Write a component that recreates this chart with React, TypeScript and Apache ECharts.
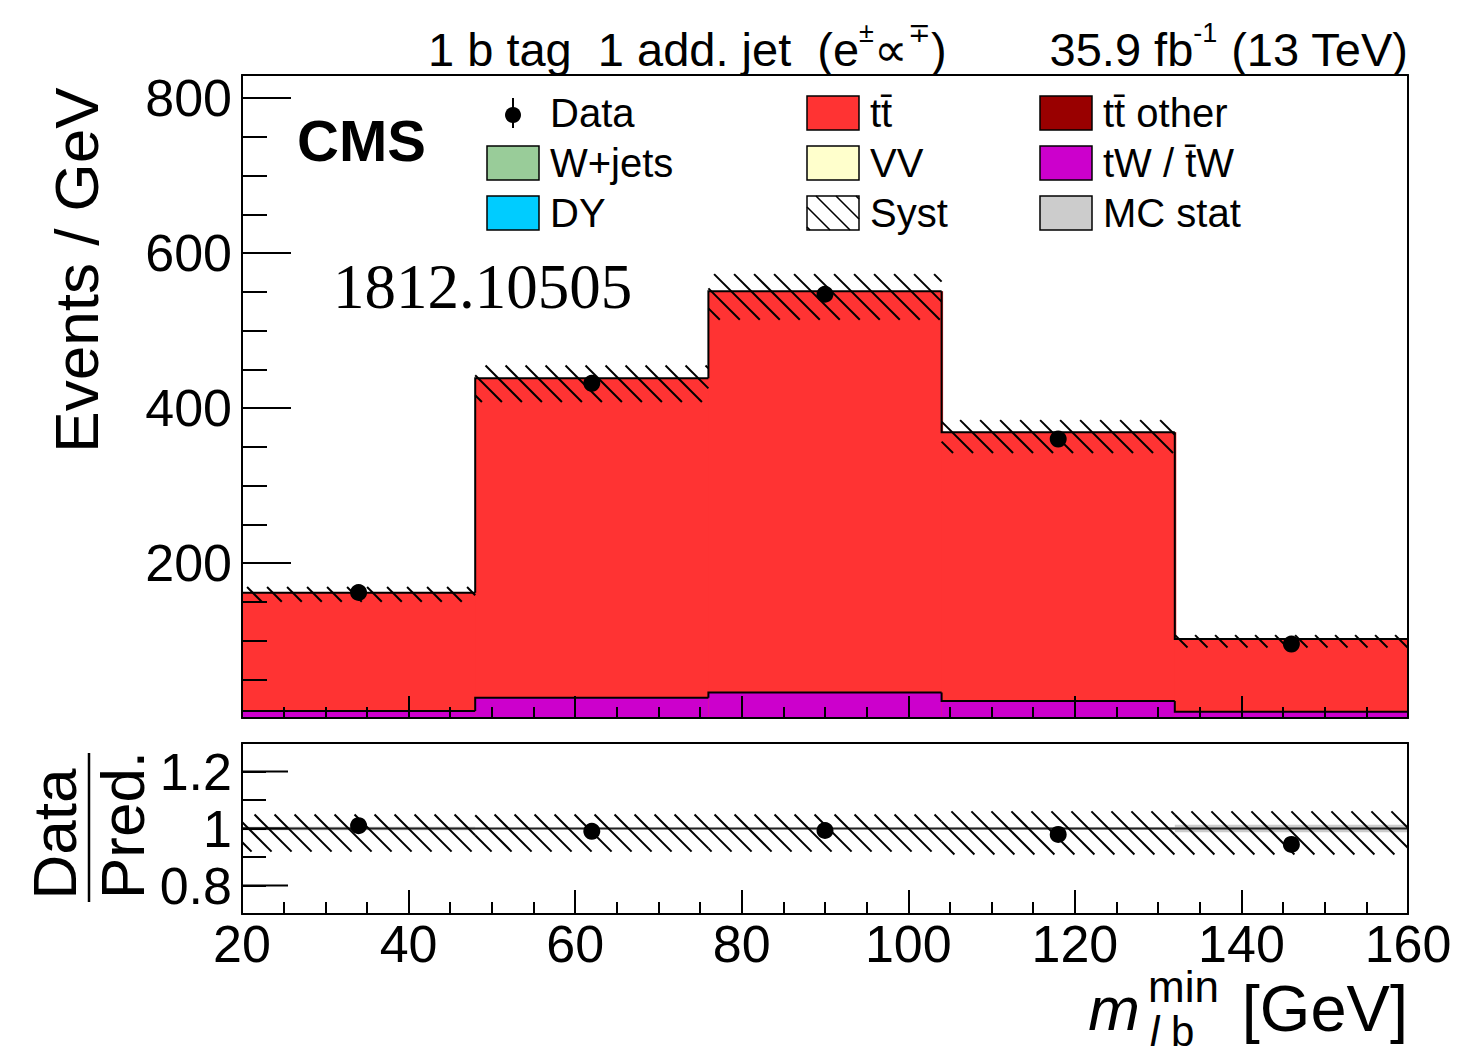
import React, { useEffect, useRef } from "react";
import * as echarts from "echarts";

const FONT = "'Liberation Sans', Arial, Helvetica, sans-serif";
const SERIF = "'Liberation Serif', 'Times New Roman', serif";

// ---- data ----
const binEdges = [20, 48, 76, 104, 132, 160];
const stackTotal = [161.7, 438.7, 551, 369, 102]; // tt + tW (events / GeV)
const tWValues = [9, 26, 33, 22, 8];
const systUp = [169, 455, 573, 384.5, 107];
const systDown = [150, 408, 514, 342, 91];
const dataValues = [162, 432, 547, 360, 95.5];
const ratioValues = [1.01, 0.99, 0.993, 0.979, 0.944];
const ratioSystUp = [1.049, 1.049, 1.049, 1.06, 1.06];
const ratioSystDown = [0.919, 0.919, 0.919, 0.909, 0.909];
const mcStatHalf = [0.006, 0.003, 0.003, 0.004, 0.013];
const ratioMajorTicks = [0.8, 1.0, 1.2];
const ratioTickLabels = ["0.8", "1", "1.2"];

const COLORS = {
  tt: "#ff3333",
  ttOther: "#990000",
  wjets: "#99cc99",
  vv: "#ffffcc",
  tw: "#cc00cc",
  dy: "#00ccff",
  mcstat: "#cccccc",
};

const legendEntries = [
  { label: "Data", kind: "data", color: "#000" },
  { label: "W+jets", kind: "box", color: COLORS.wjets },
  { label: "DY", kind: "box", color: COLORS.dy },
  { label: "tt\u0304", kind: "box", color: COLORS.tt },
  { label: "VV", kind: "box", color: COLORS.vv },
  { label: "Syst", kind: "hatch", color: "#fff" },
  { label: "tt\u0304 other", kind: "box", color: COLORS.ttOther },
  { label: "tW / t\u0304W", kind: "box", color: COLORS.tw },
  { label: "MC stat", kind: "box", color: COLORS.mcstat },
];

const HATCH = 20;

function hatchLines(x0: number, y0: number, x1: number, y1: number, lw = 2) {
  const out: any[] = [];
  const cMin = Math.ceil((x0 - y1) / HATCH) * HATCH;
  const cMax = Math.floor((x1 - y0) / HATCH) * HATCH;
  for (let c = cMin; c <= cMax; c += HATCH) {
    const xs = Math.max(x0, y0 + c);
    const xe = Math.min(x1, y1 + c);
    if (xe - xs > 0.8) {
      out.push({
        type: "line",
        shape: { x1: xs, y1: xs - c, x2: xe, y2: xe - c },
        style: { stroke: "#000", lineWidth: lw },
      });
    }
  }
  return out;
}

function bins() {
  return binEdges.slice(0, -1).map((lo, i) => ({ lo, hi: binEdges[i + 1], i }));
}

export default function App() {
  const ref = useRef<HTMLDivElement>(null);

  useEffect(() => {
    document.body.style.margin = "0";
    const chart = echarts.init(ref.current!, null, { renderer: "svg" });

    const B = bins();
    const centers = B.map((b) => (b.lo + b.hi) / 2);
    const lastIdx = B.length - 1;

    const fillData = B.map((b) => [b.lo, b.hi, tWValues[b.i], stackTotal[b.i], b.i === lastIdx ? 1 : 0]);
    const outlineData = B.map((b) => [
      b.lo,
      b.hi,
      b.i > 0 ? stackTotal[b.i - 1] : 0,
      stackTotal[b.i],
      b.i > 0 ? tWValues[b.i - 1] : 0,
      tWValues[b.i],
      b.i === lastIdx ? 1 : 0,
    ]);
    const systData = B.map((b) => [b.lo, b.hi, systDown[b.i], systUp[b.i]]);
    const ratioSystData = B.map((b) => [b.lo, b.hi, ratioSystDown[b.i], ratioSystUp[b.i]]);
    const statData = B.map((b) => [b.lo, b.hi, 1 - mcStatHalf[b.i], 1 + mcStatHalf[b.i]]);

    const axisCommon = {
      axisLine: { show: true, onZero: false, lineStyle: { color: "#000", width: 2 } },
      splitLine: { show: false },
      z: 6,
    };

    const tickLabelStyle = { color: "#000", fontFamily: FONT, fontSize: 52 };

    const hatchRender = (params: any, api: any) => {
      const p0 = api.coord([api.value(0), api.value(3)]);
      const p1 = api.coord([api.value(1), api.value(2)]);
      return { type: "group", children: hatchLines(p0[0], p0[1], p1[0], p1[1]) };
    };

    // legend graphics
    const colX = [487, 807, 1040];
    const rowY = [113, 163, 213];
    const BW = 52;
    const BH = 34;
    const legendGraphics: any[] = [];
    legendEntries.forEach((e, k) => {
      const col = Math.floor(k / 3);
      const row = k % 3;
      const x = colX[col];
      const yc = rowY[row];
      if (e.kind === "data") {
        legendGraphics.push({
          type: "line",
          shape: { x1: x + BW / 2, y1: yc - 15, x2: x + BW / 2, y2: yc + 15 },
          style: { stroke: "#000", lineWidth: 2 },
        });
        legendGraphics.push({
          type: "circle",
          shape: { cx: x + BW / 2, cy: yc + 2, r: 8 },
          style: { fill: "#000" },
        });
      } else {
        legendGraphics.push({
          type: "rect",
          shape: { x, y: yc - BH / 2, width: BW, height: BH },
          style: { fill: e.color, stroke: "#000", lineWidth: 1.5 },
        });
        if (e.kind === "hatch") {
          legendGraphics.push({
            type: "group",
            children: hatchLines(x, yc - BH / 2, x + BW, yc + BH / 2, 1.6),
          });
        }
      }
      legendGraphics.push({
        type: "text",
        x: x + 63,
        y: yc,
        style: {
          text: e.label,
          fontFamily: FONT,
          fontSize: 40,
          fill: "#000",
          textAlign: "left",
          textVerticalAlign: "middle",
        },
      });
    });

    const headerRich = {
      a: { fontFamily: FONT, fontSize: 47, lineHeight: 54, verticalAlign: "bottom", fill: "#000" },
      s: { fontFamily: FONT, fontSize: 27, lineHeight: 27, verticalAlign: "top", fill: "#000" },
    };

    const option: any = {
      animation: false,
      backgroundColor: "#fff",
      grid: [
        { left: 242, top: 75, width: 1166, height: 643, containLabel: false, outerBoundsMode: "none" },
        { left: 242, top: 743, width: 1166, height: 171, containLabel: false, outerBoundsMode: "none" },
      ],
      xAxis: [
        {
          ...axisCommon,
          type: "value",
          gridIndex: 0,
          min: 20,
          max: 160,
          interval: 20,
          axisLabel: { show: false },
          axisTick: { show: true, inside: true, length: 22, lineStyle: { color: "#000", width: 2 } },
          minorTick: { show: true, splitNumber: 4, length: 11, lineStyle: { color: "#000", width: 2 } },
        },
        {
          ...axisCommon,
          type: "value",
          gridIndex: 1,
          min: 20,
          max: 160,
          interval: 20,
          axisLabel: { show: true, margin: 4, ...tickLabelStyle, showMinLabel: true, showMaxLabel: true },
          axisTick: { show: true, inside: true, length: 24, lineStyle: { color: "#000", width: 2 } },
          minorTick: { show: true, splitNumber: 4, length: 12, lineStyle: { color: "#000", width: 2 } },
        },
        {
          ...axisCommon,
          type: "value",
          gridIndex: 0,
          position: "top",
          min: 20,
          max: 160,
          axisLabel: { show: false },
          axisTick: { show: false },
        },
        {
          ...axisCommon,
          type: "value",
          gridIndex: 1,
          position: "top",
          min: 20,
          max: 160,
          axisLabel: { show: false },
          axisTick: { show: false },
        },
      ],
      yAxis: [
        {
          ...axisCommon,
          type: "value",
          gridIndex: 0,
          min: 0,
          max: 830,
          interval: 200,
          axisLabel: {
            show: true,
            margin: 10,
            ...tickLabelStyle,
            formatter: (v: number) => (v === 0 ? "" : String(v)),
          },
          axisTick: { show: true, inside: true, length: 49, lineStyle: { color: "#000", width: 2 } },
          minorTick: { show: true, splitNumber: 4, length: 25, lineStyle: { color: "#000", width: 2 } },
        },
        {
          ...axisCommon,
          type: "value",
          gridIndex: 1,
          min: 0.7,
          max: 1.3,
          interval: 0.1,
          axisLabel: {
            show: true,
            margin: 10,
            ...tickLabelStyle,
            formatter: (v: number) => {
              const idx = ratioMajorTicks.findIndex((t) => Math.abs(t - v) < 1e-6);
              return idx >= 0 ? ratioTickLabels[idx] : "";
            },
          },
          axisTick: { show: true, inside: true, length: 24, lineStyle: { color: "#000", width: 2 } },
        },
        {
          ...axisCommon,
          type: "value",
          gridIndex: 0,
          position: "right",
          min: 0,
          max: 830,
          axisLabel: { show: false },
          axisTick: { show: false },
        },
        {
          ...axisCommon,
          type: "value",
          gridIndex: 1,
          position: "right",
          min: 0.7,
          max: 1.3,
          axisLabel: { show: false },
          axisTick: { show: false },
        },
      ],
      series: [
        // stacked fills
        {
          type: "custom",
          xAxisIndex: 0,
          yAxisIndex: 0,
          z: 2,
          silent: true,
          encode: { x: [0, 1], y: [2, 3] },
          data: fillData,
          renderItem: (params: any, api: any) => {
            const lo = api.value(0);
            const hi = api.value(1);
            const tw = api.value(2);
            const tot = api.value(3);
            const extra = api.value(4) === 1 ? 0 : 1.5;
            const a = api.coord([lo, tot]);
            const b = api.coord([hi, 0]);
            const c = api.coord([lo, tw]);
            return {
              type: "group",
              children: [
                { type: "rect", shape: { x: a[0], y: a[1], width: b[0] - a[0] + extra, height: b[1] - a[1] }, style: { fill: COLORS.tt } },
                { type: "rect", shape: { x: c[0], y: c[1], width: b[0] - c[0] + extra, height: b[1] - c[1] }, style: { fill: COLORS.tw } },
              ],
            };
          },
        },
        // histogram outlines
        {
          type: "custom",
          xAxisIndex: 0,
          yAxisIndex: 0,
          z: 3,
          silent: true,
          encode: { x: [0, 1], y: [2, 3] },
          data: outlineData,
          renderItem: (params: any, api: any) => {
            const lo = api.value(0);
            const hi = api.value(1);
            const mk = (prev: number, cur: number, last: boolean) => {
              const pts = [api.coord([lo, prev]), api.coord([lo, cur]), api.coord([hi, cur])];
              if (last) pts.push(api.coord([hi, 0]));
              return { type: "polyline", shape: { points: pts }, style: { stroke: "#000", lineWidth: 2, fill: null } };
            };
            const last = api.value(6) === 1;
            return {
              type: "group",
              children: [mk(api.value(4), api.value(5), last), mk(api.value(2), api.value(3), last)],
            };
          },
        },
        // syst hatch (top)
        {
          type: "custom",
          xAxisIndex: 0,
          yAxisIndex: 0,
          z: 4,
          silent: true,
          encode: { x: [0, 1], y: [2, 3] },
          data: systData,
          renderItem: hatchRender,
        },
        // data points (top)
        {
          type: "scatter",
          xAxisIndex: 0,
          yAxisIndex: 0,
          z: 5,
          symbol: "circle",
          symbolSize: 17,
          itemStyle: { color: "#000", opacity: 1 },
          data: centers.map((x, i) => [x, dataValues[i]]),
        },
        // MC stat band (ratio)
        {
          type: "custom",
          xAxisIndex: 1,
          yAxisIndex: 1,
          z: 2,
          silent: true,
          encode: { x: [0, 1], y: [2, 3] },
          data: statData,
          renderItem: (params: any, api: any) => {
            const a = api.coord([api.value(0), api.value(3)]);
            const b = api.coord([api.value(1), api.value(2)]);
            return {
              type: "rect",
              shape: { x: a[0], y: a[1], width: b[0] - a[0], height: b[1] - a[1] },
              style: { fill: COLORS.mcstat },
            };
          },
        },
        // unity line
        {
          type: "line",
          xAxisIndex: 1,
          yAxisIndex: 1,
          z: 3,
          silent: true,
          symbol: "none",
          lineStyle: { color: "#222", width: 2 },
          data: [
            [binEdges[0], 1],
            [binEdges[binEdges.length - 1], 1],
          ],
        },
        // syst hatch (ratio)
        {
          type: "custom",
          xAxisIndex: 1,
          yAxisIndex: 1,
          z: 4,
          silent: true,
          encode: { x: [0, 1], y: [2, 3] },
          data: ratioSystData,
          renderItem: hatchRender,
        },
        // long ticks for ratio major values
        {
          type: "custom",
          xAxisIndex: 1,
          yAxisIndex: 1,
          z: 6,
          silent: true,
          encode: { x: 0, y: 1 },
          data: ratioMajorTicks.map((v) => [binEdges[0], v]),
          renderItem: (params: any, api: any) => {
            const p = api.coord([api.value(0), api.value(1)]);
            return {
              type: "line",
              shape: { x1: p[0], y1: p[1], x2: p[0] + 46, y2: p[1] },
              style: { stroke: "#000", lineWidth: 2 },
            };
          },
        },
        // ratio points
        {
          type: "scatter",
          xAxisIndex: 1,
          yAxisIndex: 1,
          z: 5,
          symbol: "circle",
          symbolSize: 17,
          itemStyle: { color: "#000", opacity: 1 },
          data: centers.map((x, i) => [x, ratioValues[i]]),
        },
      ],
      graphic: [
        // header left
        {
          type: "text",
          x: 428,
          y: 46,
          style: {
            text: "{a|1 b tag  1 add. jet  (e}{s|\u00b1}{a|\u221d}{s|\u2213}{a|)}",
            rich: headerRich,
            textAlign: "left",
            textVerticalAlign: "middle",
          },
        },
        // header right
        {
          type: "text",
          x: 1408,
          y: 46,
          style: {
            text: "{a|35.9 fb}{s|-1}{a| (13 TeV)}",
            rich: headerRich,
            textAlign: "right",
            textVerticalAlign: "middle",
          },
        },
        {
          type: "text",
          x: 297,
          y: 140,
          style: { text: "CMS", fontFamily: FONT, fontWeight: "bold", fontSize: 58, fill: "#000", textAlign: "left", textVerticalAlign: "middle" },
        },
        {
          type: "text",
          x: 333,
          y: 287,
          style: { text: "1812.10505", fontFamily: SERIF, fontSize: 63, fill: "#000", textAlign: "left", textVerticalAlign: "middle" },
        },
        // y title
        {
          type: "text",
          x: 76,
          y: 270,
          rotation: Math.PI / 2,
          style: { text: "Events / GeV", fontFamily: FONT, fontSize: 62, fill: "#000", textAlign: "center", textVerticalAlign: "middle" },
        },
        // ratio title
        {
          type: "text",
          x: 54,
          y: 834,
          rotation: Math.PI / 2,
          style: { text: "Data", fontFamily: FONT, fontSize: 62, fill: "#000", textAlign: "center", textVerticalAlign: "middle" },
        },
        {
          type: "line",
          shape: { x1: 89, y1: 753, x2: 89, y2: 902 },
          style: { stroke: "#000", lineWidth: 2.5 },
        },
        {
          type: "text",
          x: 122,
          y: 825,
          rotation: Math.PI / 2,
          style: { text: "Pred.", fontFamily: FONT, fontSize: 62, fill: "#000", textAlign: "center", textVerticalAlign: "middle" },
        },
        // x title
        {
          type: "text",
          x: 1140,
          y: 1008,
          style: { text: "m", fontFamily: FONT, fontStyle: "italic", fontSize: 62, fill: "#000", textAlign: "right", textVerticalAlign: "middle" },
        },
        {
          type: "text",
          x: 1148,
          y: 986,
          style: { text: "min", fontFamily: FONT, fontSize: 44, lineHeight: 40, fill: "#000", textAlign: "left", textVerticalAlign: "middle" },
        },
        {
          type: "text",
          x: 1150,
          y: 1031,
          style: {
            text: "{i|l}{n| b}",
            rich: {
              i: { fontFamily: FONT, fontStyle: "italic", fontSize: 42, lineHeight: 38, fill: "#000" },
              n: { fontFamily: FONT, fontSize: 42, lineHeight: 38, fill: "#000" },
            },
            textAlign: "left",
            textVerticalAlign: "middle",
          },
        },
        {
          type: "text",
          x: 1408,
          y: 1008,
          style: { text: "[GeV]", fontFamily: FONT, fontSize: 65, fill: "#000", textAlign: "right", textVerticalAlign: "middle" },
        },
        ...legendGraphics,
      ],
    };

    chart.setOption(option);
    return () => chart.dispose();
  }, []);

  return (
    <div
      ref={ref}
      style={{ position: "fixed", left: 0, top: 0, width: 1457, height: 1056, background: "#fff" }}
    />
  );
}
